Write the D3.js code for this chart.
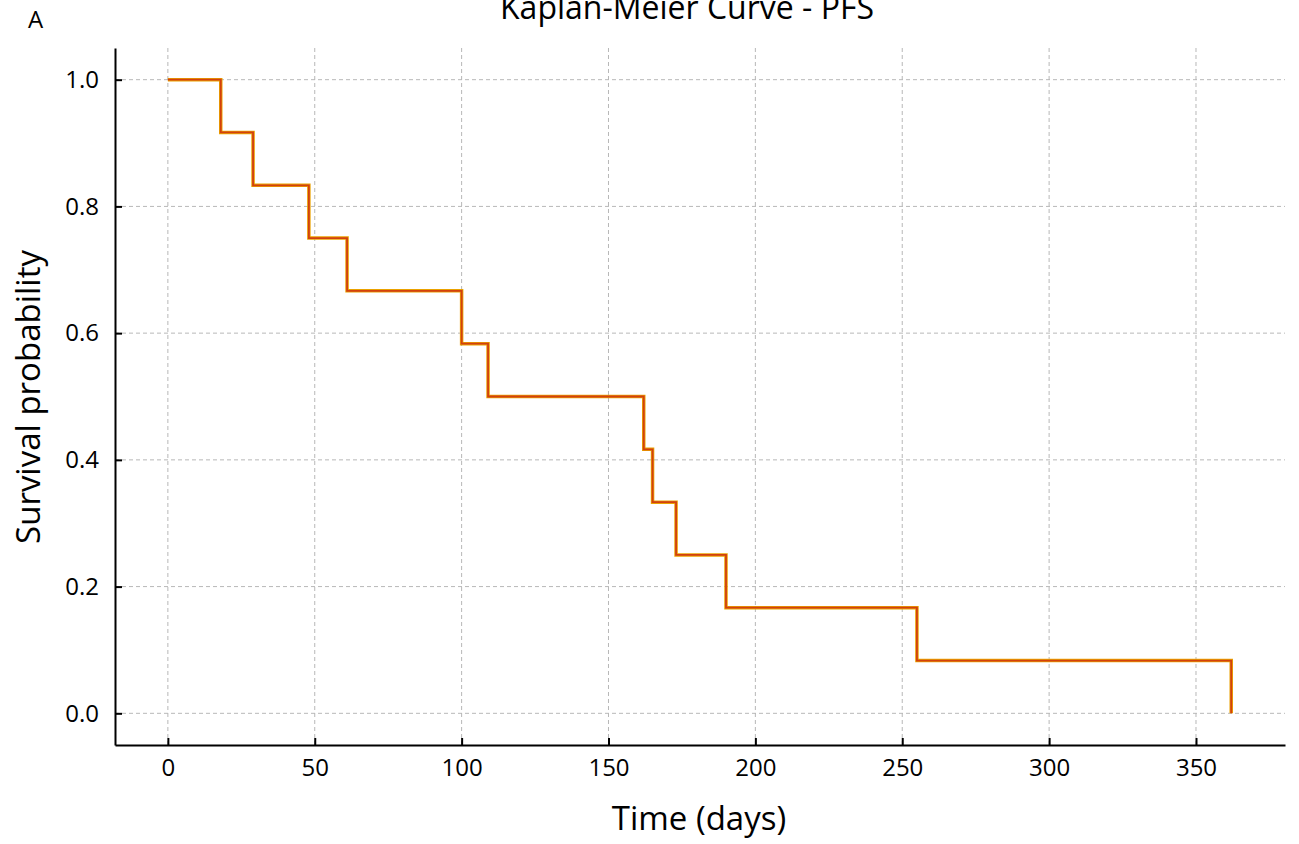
<!DOCTYPE html>
<html>
<head>
<meta charset="utf-8">
<script src="https://cdn.jsdelivr.net/npm/d3@7"></script>
<style>
  body { margin: 0; background: #fff; }
  text { font-family: "Open Sans", "Noto Sans", sans-serif; }
</style>
</head>
<body>
<div id="chart"></div>
<script>
// step times (days) and survival probability after each step
var times = [0, 18, 29, 48, 61, 100, 109, 162, 165, 173, 190, 255, 362]
var survival = [1.0, 0.9167, 0.8333, 0.75, 0.6667, 0.5833, 0.5, 0.4167, 0.3333, 0.25, 0.1667, 0.0833, 0.0]
var xTicks = [0, 50, 100, 150, 200, 250, 300, 350]
var yTicks = [0.0, 0.2, 0.4, 0.6, 0.8, 1.0]

var width = 1299, height = 844
var margin = {top: 48, right: 14, bottom: 99, left: 115}

var svg = d3.select("#chart").append("svg")
    .attr("width", width)
    .attr("height", height)

var x = d3.scaleLinear()
    .domain([-18, 380.3])
    .range([margin.left, width - margin.right])

var y = d3.scaleLinear()
    .domain([-0.05, 1.05])
    .range([height - margin.bottom, margin.top])

// grid
svg.append("g").selectAll("line")
    .data(xTicks)
    .enter().append("line")
    .attr("x1", d => x(d)).attr("x2", d => x(d))
    .attr("y1", margin.top).attr("y2", height - margin.bottom)
    .attr("stroke", "#b8b8b8")
    .attr("stroke-width", 1)
    .attr("stroke-dasharray", "4,3")

svg.append("g").selectAll("line")
    .data(yTicks)
    .enter().append("line")
    .attr("x1", margin.left).attr("x2", width - margin.right)
    .attr("y1", d => y(d)).attr("y2", d => y(d))
    .attr("stroke", "#b8b8b8")
    .attr("stroke-width", 1)
    .attr("stroke-dasharray", "4,3")

// axes
var xAxis = svg.append("g")
    .attr("transform", "translate(0," + (height - margin.bottom) + ")")
    .call(d3.axisBottom(x).tickValues(xTicks).tickSizeInner(-7).tickSizeOuter(0).tickPadding(14).tickFormat(d3.format("d")))
var yAxis = svg.append("g")
    .attr("transform", "translate(" + margin.left + ",0)")
    .call(d3.axisLeft(y).tickValues(yTicks).tickSizeInner(-7).tickSizeOuter(0).tickPadding(16).tickFormat(d3.format(".1f")))

;[xAxis, yAxis].forEach(function(a) {
    a.select(".domain").attr("stroke", "#000").attr("stroke-width", 2)
    a.selectAll(".tick line").attr("stroke", "#000").attr("stroke-width", 2)
    a.selectAll(".tick text").attr("font-size", "24px").attr("fill", "#000")
        .style("font-family", "'Open Sans', 'Noto Sans', sans-serif")
})

// survival curve
var km = times.map((t, i) => ({t: t, s: survival[i]}))
var line = d3.line()
    .x(d => x(d.t))
    .y(d => y(d.s))
    .curve(d3.curveStepAfter)

svg.append("path")
    .datum(km)
    .attr("fill", "none")
    .attr("stroke", "#eaa200")
    .attr("stroke-width", 3.5)
    .attr("d", line)
svg.append("path")
    .datum(km)
    .attr("fill", "none")
    .attr("stroke", "#d2400f")
    .attr("stroke-width", 1.8)
    .attr("d", line)

// labels
svg.append("text")
    .attr("x", 687).attr("y", 19)
    .attr("text-anchor", "middle")
    .attr("font-size", "32px")
    .text("Kaplan-Meier Curve - PFS")

svg.append("text")
    .attr("x", 28).attr("y", 28)
    .attr("font-size", "24px")
    .text("A")

svg.append("text")
    .attr("x", 699).attr("y", 830)
    .attr("text-anchor", "middle")
    .attr("font-size", "33px")
    .text("Time (days)")

svg.append("text")
    .attr("transform", "translate(40,397) rotate(-90)")
    .attr("text-anchor", "middle")
    .attr("font-size", "33px")
    .text("Survival probability")
</script>
</body>
</html>
